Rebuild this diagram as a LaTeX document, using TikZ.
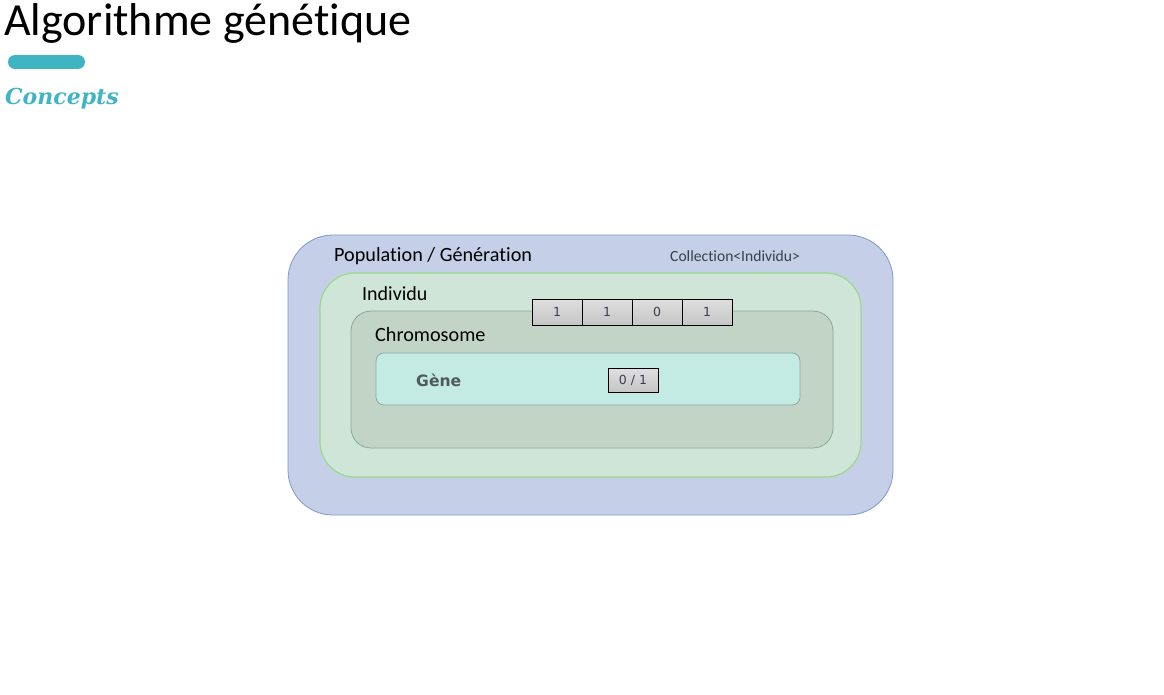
\documentclass[tikz,border=0pt]{standalone}
\usepackage{fontspec}
\setmainfont{Carlito}[Ligatures=NoCommon]
\newfontfamily\scriptfnt{DejaVu Serif}
\newfontfamily\verd{DejaVu Sans}
\definecolor{popfill}{HTML}{C5D0E8}
\definecolor{popdraw}{HTML}{7F96D0}
\definecolor{indfill}{HTML}{CFE5D8}
\definecolor{inddraw}{HTML}{9AD88A}
\definecolor{chrfill}{HTML}{C2D4C6}
\definecolor{chrdraw}{HTML}{8FA59A}
\definecolor{genfill}{HTML}{C3EBE4}
\definecolor{gendraw}{HTML}{8FA5A5}
\definecolor{teal}{HTML}{3FB5C4}
\definecolor{txtgray}{HTML}{3A3F4A}
\definecolor{genetxt}{HTML}{505A5A}
\tikzset{
  bitcell/.style={draw=black, line width=0.8pt, top color=gray!25, bottom color=gray!45, minimum width=50pt, minimum height=26pt, inner sep=0pt, font=\verd\fontsize{12.5}{12.5}\selectfont, text=txtgray},
  lbl/.style={anchor=west, inner sep=0pt},
}
\begin{document}
\begin{tikzpicture}[x=1pt,y=-1pt]
\useasboundingbox (0,0) rectangle (1164,694);
% title
\node[lbl, font=\fontsize{46}{46}\selectfont] (title) at (4,23) {Algorithme génétique};
\draw[teal, line width=14pt, line cap=round] (15,62) -- (78,62);
\node[lbl, font=\scriptfnt\bfseries\itshape\fontsize{22}{22}\selectfont, text=teal] (concepts) at (5,99) {Concepts};
% boxes
\draw[fill=popfill, draw=popdraw, line width=0.8pt, rounded corners=45pt] (288,235) rectangle (893,515);
\draw[fill=indfill, draw=inddraw, line width=1.2pt, rounded corners=35pt] (320,273) rectangle (861,477);
\draw[fill=chrfill, draw=chrdraw, line width=0.8pt, rounded corners=20pt] (351,311) rectangle (833,448);
\draw[fill=genfill, draw=gendraw, line width=0.8pt, rounded corners=8pt] (376,353) rectangle (800,405);
% labels
\node[lbl, font=\fontsize{20.2}{20.2}\selectfont] (pop) at (334,256) {Population / Génération};
\node[lbl, font=\fontsize{15.6}{15.6}\selectfont, text=txtgray] (coll) at (670,256) {Collection<Individu>};
\node[lbl, font=\fontsize{20}{20}\selectfont] (ind) at (362,294) {Individu};
\node[lbl, font=\fontsize{20.2}{20.2}\selectfont] (chr) at (375,335) {Chromosome};
\node[lbl, font=\verd\bfseries\fontsize{15.6}{15.6}\selectfont, text=genetxt] (gene) at (416,380) {Gène};
% bits
\node[bitcell] (b1) at (557,312) {1};
\node[bitcell] (b2) at (607,312) {1};
\node[bitcell] (b3) at (657,312) {0};
\node[bitcell] (b4) at (707,312) {1};
\node[bitcell, minimum height=24pt] (g) at (633,380) {0 / 1};
\end{tikzpicture}
\end{document}
